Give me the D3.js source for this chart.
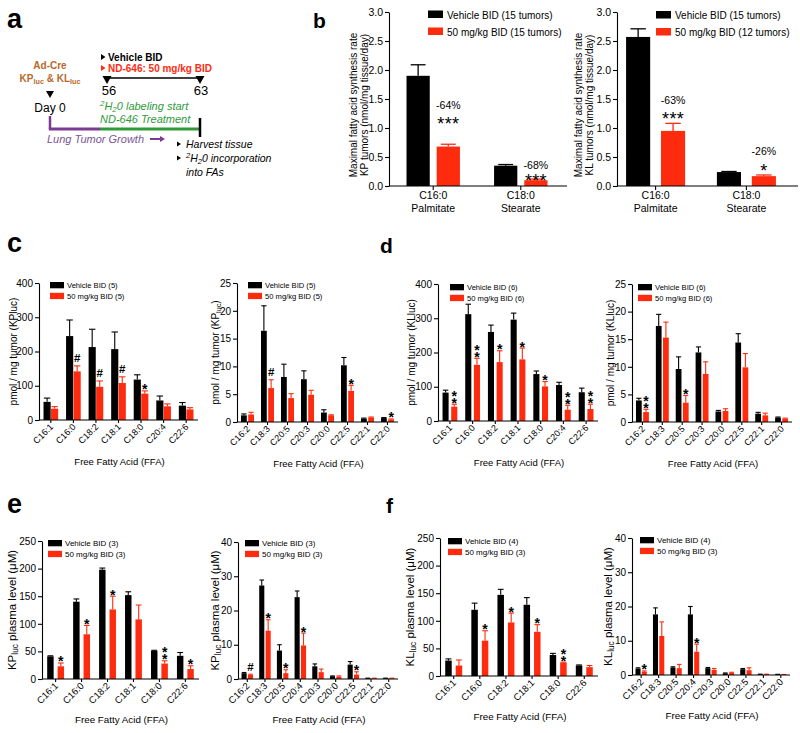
<!DOCTYPE html>
<html><head><meta charset="utf-8">
<script src="https://cdn.jsdelivr.net/npm/d3@7"></script>
<style>body{margin:0;background:#fff}svg{display:block}</style>
</head><body><svg id="fig" width="800" height="733"></svg>
<script>
// ---------------- DATA ----------------
const VEH = "#000000", DRUG = "#fe2b0e";

// panel b
const bCategories = ["C16:0", "C18:0"];
const bNames = ["Palmitate", "Stearate"];
const bTicks = [0, 0.5, 1.0, 1.5, 2.0, 2.5, 3.0];
const bKPVehicle = [1.90, 0.35], bKPVehicleSem = [0.19, 0.02];
const bKPDrug = [0.68, 0.10], bKPDrugSem = [0.04, 0.02];
const bKPPct = ["-64%", "-68%"], bKPSig = ["***", "***"];
const bKPPctAt = [1.40, 0.36], bKPSigAt = [1.14, 0.16];
const bKLVehicle = [2.57, 0.24], bKLVehicleSem = [0.14, 0.01];
const bKLDrug = [0.95, 0.17], bKLDrugSem = [0.13, 0.02];
const bKLPct = ["-63%", "-26%"], bKLSig = ["***", "*"];
const bKLPctAt = [1.48, 0.59], bKLSigAt = [1.22, 0.33];

// categories
const tumorMajorFFA = ["C16:1", "C16:0", "C18:2", "C18:1", "C18:0", "C20:4", "C22:6"];
const tumorMinorFFA = ["C16:2", "C18:3", "C20:5", "C20:3", "C20:0", "C22:5", "C22:1", "C22:0"];
const plasmaMajorFFA = ["C16:1", "C16:0", "C18:2", "C18:1", "C18:0", "C22:6"];
const plasmaMinorFFA = ["C16:2", "C18:3", "C20:5", "C20:4", "C20:3", "C20:0", "C22:5", "C22:1", "C22:0"];
const ticks400 = [0, 100, 200, 300, 400];
const ticks25 = [0, 5, 10, 15, 20, 25];
const ticks250 = [0, 50, 100, 150, 200, 250];
const ticks40 = [0, 10, 20, 30, 40];

// panel c (KPluc tumors)
const cMajVeh = [53, 245, 213, 207, 118, 57, 42], cMajVehSem = [11, 47, 52, 50, 14, 13, 9];
const cMajDrug = [33, 142, 97, 108, 77, 40, 31], cMajDrugSem = [6, 16, 17, 18, 8, 7, 5];
const cMajSig = ["", "#", "#", "#", "*", "", ""];
const cMinVeh = [1.2, 16.4, 8.1, 7.7, 1.7, 10.2, 0.6, 0.7], cMinVehSem = [0.25, 4.5, 2.3, 1.5, 0.5, 1.4, 0.1, 0.1];
const cMinDrug = [1.35, 6.1, 4.3, 4.9, 1.2, 5.6, 0.8, 0.45], cMinDrugSem = [0.4, 1.5, 0.8, 0.8, 0.1, 1.0, 0.1, 0.1];
const cMinSig = ["", "#", "", "", "", "*", "", "*"];

// panel d (KLluc tumors)
const dMajVeh = [83, 312, 260, 296, 137, 105, 84], dMajVehSem = [7, 29, 20, 19, 9, 8, 12];
const dMajDrug = [42, 164, 172, 180, 101, 33, 35], dMajDrugSem = [7, 19, 33, 33, 14, 13, 14];
const dMajSig = ["**", "**", "*", "*", "*", "**", "**"];
const dMinVeh = [3.9, 17.4, 9.6, 12.6, 1.9, 14.4, 1.5, 0.8], dMinVehSem = [0.4, 2.1, 2.2, 1.0, 0.2, 1.6, 0.25, 0.1];
const dMinDrug = [1.8, 15.3, 3.5, 8.7, 2.0, 9.9, 1.2, 0.6], dMinDrugSem = [0.5, 2.8, 1.3, 2.2, 0.4, 2.5, 0.4, 0.1];
const dMinSig = ["**", "", "*", "", "", "", "", ""];

// panel e (KPluc plasma)
const eMajVeh = [41, 140, 198, 152, 51, 42], eMajVehSem = [1, 5, 3, 6, 1, 6];
const eMajDrug = [23, 81, 126, 108, 28, 18], eMajDrugSem = [6, 16, 24, 26, 5, 6];
const eMajSig = ["*", "*", "*", "", "**", "*"];
const eMinVeh = [1.7, 27.3, 8.3, 23.9, 3.7, 0.8, 4.2, 0.2, 0.2], eMinVehSem = [0.2, 1.6, 1.7, 1.8, 0.7, 0.1, 0.9, 0.05, 0.05];
const eMinDrug = [1.2, 14.1, 1.7, 9.8, 2.0, 0.7, 1.3, 0.2, 0.2], eMinDrugSem = [0.2, 3.2, 1.0, 3.6, 0.9, 0.2, 0.8, 0.05, 0.05];
const eMinSig = ["#", "*", "*", "*", "", "", "*", "", ""];

// panel f (KLluc plasma)
const fMajVeh = [28, 120, 147, 129, 38, 19], fMajVehSem = [3, 12, 10, 13, 3, 1];
const fMajDrug = [19, 64, 97, 80, 24, 16], fMajDrugSem = [10, 18, 17, 13, 1, 3];
const fMajSig = ["", "*", "*", "*", "**", ""];
const fMinVeh = [1.9, 17.7, 2.2, 17.7, 2.0, 0.5, 1.7, 0.2, 0.15], fMinVehSem = [0.2, 1.9, 0.2, 2.3, 0.2, 0.1, 0.2, 0.05, 0.05];
const fMinDrug = [1.0, 11.4, 2.0, 6.8, 1.5, 0.7, 1.4, 0.2, 0.1], fMinDrugSem = [0.2, 4.1, 1.1, 2.2, 0.4, 0.1, 0.7, 0.05, 0.05];
const fMinSig = ["*", "", "", "*", "", "", "", "", ""];

// ---------------- DRAWING ----------------
const FONT = 'Arial, "Liberation Sans", Helvetica, sans-serif';
const svg = d3.select("#fig").attr("font-family", FONT);

function rich(sel, parts, fs) {
  parts.forEach(p => {
    const t = sel.append("tspan").text(p.t);
    if (p.sub) t.attr("font-size", fs * 0.72).attr("baseline-shift", -fs * 0.2);
    if (p.sup) t.attr("font-size", fs * 0.72).attr("baseline-shift", fs * 0.4);
  });
  return sel;
}

function letter(ch, x, y, fs) {
  svg.append("text").attr("x", x).attr("y", y).attr("font-size", fs)
    .attr("font-weight", "bold").text(ch);
}

// ---- panel a ----
(function () {
  const g = svg.append("g");
  const orange = "#b8692a", green = "#2f9a3a", purple = "#7b3b92", purpleT = "#7a5598";
  const tri = (x, y, w, h, col, dir) => {
    let pts;
    if (dir === "down") pts = [[x - w, y], [x + w, y], [x, y + h]];
    else pts = [[x, y - w], [x, y + w], [x + h, y]];
    g.append("polygon").attr("points", pts.map(p => p.join(",")).join(" ")).attr("fill", col);
  };
  g.append("text").attr("x", 50).attr("y", 69).attr("text-anchor", "middle")
    .attr("font-size", 10).attr("font-weight", "bold").attr("fill", orange).text("Ad-Cre");
  rich(g.append("text").attr("x", 50).attr("y", 82).attr("text-anchor", "middle")
    .attr("font-size", 10).attr("font-weight", "bold").attr("fill", orange),
    [{t: "KP"}, {t: "luc", sub: true}, {t: " & KL"}, {t: "luc", sub: true}], 10);
  tri(50, 91, 4, 7, "#000", "down");
  g.append("text").attr("x", 50).attr("y", 112).attr("text-anchor", "middle")
    .attr("font-size", 12).text("Day 0");

  tri(101, 57, 3, 4.5, "#000", "right");
  g.append("text").attr("x", 108).attr("y", 61).attr("font-size", 10)
    .attr("font-weight", "bold").text("Vehicle BID");
  tri(101, 68, 3, 4.5, "#ff2a12", "right");
  g.append("text").attr("x", 108).attr("y", 72).attr("font-size", 10)
    .attr("font-weight", "bold").attr("fill", "#ff2a12").text("ND-646: 50 mg/kg BID");
  g.append("line").attr("x1", 107).attr("x2", 200).attr("y1", 78).attr("y2", 78)
    .attr("stroke", "#000").attr("stroke-width", 1.5);
  tri(107, 76, 4.5, 8, "#000", "down");
  tri(200, 76, 4.5, 8, "#000", "down");
  g.append("text").attr("x", 109).attr("y", 95).attr("text-anchor", "middle").attr("font-size", 13).text("56");
  g.append("text").attr("x", 201).attr("y", 95).attr("text-anchor", "middle").attr("font-size", 13).text("63");
  rich(g.append("text").attr("x", 100).attr("y", 110).attr("font-size", 11)
    .attr("font-style", "italic").attr("fill", green),
    [{t: "2", sup: true}, {t: "H"}, {t: "2", sub: true}, {t: "0 labeling start"}], 11);
  g.append("text").attr("x", 100).attr("y", 123).attr("font-size", 11)
    .attr("font-style", "italic").attr("fill", green).text("ND-646 Treatment");

  g.append("line").attr("x1", 50).attr("x2", 50).attr("y1", 116).attr("y2", 129)
    .attr("stroke", purple).attr("stroke-width", 2.5);
  g.append("line").attr("x1", 48.8).attr("x2", 100).attr("y1", 129).attr("y2", 129)
    .attr("stroke", purple).attr("stroke-width", 3);
  g.append("line").attr("x1", 100).attr("x2", 200).attr("y1", 129).attr("y2", 129)
    .attr("stroke", green).attr("stroke-width", 3);
  g.append("line").attr("x1", 200).attr("x2", 200).attr("y1", 118).attr("y2", 137)
    .attr("stroke", "#000").attr("stroke-width", 2.5);

  g.append("text").attr("x", 47).attr("y", 143).attr("font-size", 11)
    .attr("font-style", "italic").attr("fill", purpleT).text("Lung Tumor Growth");
  g.append("line").attr("x1", 150).attr("x2", 161).attr("y1", 139).attr("y2", 139)
    .attr("stroke", purple).attr("stroke-width", 2);
  tri(160, 139, 3, 5, purple, "right");

  tri(177, 144, 2.5, 4, "#000", "right");
  g.append("text").attr("x", 186).attr("y", 148).attr("font-size", 10.5)
    .attr("font-style", "italic").text("Harvest tissue");
  tri(177, 158, 2.5, 4, "#000", "right");
  rich(g.append("text").attr("x", 186).attr("y", 162).attr("font-size", 10.5).attr("font-style", "italic"),
    [{t: "2", sup: true}, {t: "H"}, {t: "2", sub: true}, {t: "0 incorporation"}], 10.5);
  g.append("text").attr("x", 186).attr("y", 176).attr("font-size", 10.5)
    .attr("font-style", "italic").text("into FAs");
})();

// ---- panel b ----
function drawB(p) {
  const g = svg.append("g");
  const y = d3.scaleLinear().domain([0, 3]).range([p.yBot, p.yTop]);
  const x = d3.scaleBand().domain(bCategories).range(p.band).paddingInner(p.pi).paddingOuter(p.po);
  const xs = d3.scaleBand().domain([0, 1]).range([0, x.bandwidth()]).paddingInner(p.sub);
  const series = [{v: p.veh, s: p.vehSem, c: VEH}, {v: p.drug, s: p.drugSem, c: DRUG}];
  series.forEach((se, si) => {
    const bw = xs.bandwidth();
    bCategories.forEach((cat, i) => {
      const bx = x(cat) + xs(si), cx = bx + bw / 2;
      g.append("rect").attr("x", bx).attr("width", bw).attr("y", y(se.v[i]))
        .attr("height", y(0) - y(se.v[i])).attr("fill", se.c);
      const top = y(se.v[i] + se.s[i]);
      g.append("line").attr("x1", cx).attr("x2", cx).attr("y1", y(se.v[i])).attr("y2", top)
        .attr("stroke", se.c).attr("stroke-width", 1.3);
      g.append("line").attr("x1", cx - bw * 0.32).attr("x2", cx + bw * 0.32).attr("y1", top).attr("y2", top)
        .attr("stroke", se.c).attr("stroke-width", 1.3);
    });
  });
  // annotations
  bCategories.forEach((cat, i) => {
    const cx = x(cat) + xs(1) + xs.bandwidth() / 2;
    g.append("text").attr("x", cx).attr("y", y(p.pctAt[i]) + 3.7).attr("text-anchor", "middle")
      .attr("font-size", 10.5).text(p.pct[i]);
    g.append("text").attr("x", cx).attr("y", y(p.sigAt[i]) + 10).attr("text-anchor", "middle")
      .attr("font-size", 18).attr("letter-spacing", 0.3).text(p.sig[i]);
  });
  // axes
  const ya = g.append("g").attr("transform", `translate(${p.x0},0)`)
    .call(d3.axisLeft(y).tickValues(bTicks).tickFormat(d3.format(".1f")).tickSize(4).tickSizeOuter(0).tickPadding(2));
  ya.attr("font-family", FONT).attr("font-size", 10.5);
  ya.selectAll("path,line").attr("stroke-width", 1.1);
  const xa = g.append("g").attr("transform", `translate(0,${p.yBot})`)
    .call(d3.axisBottom(x).tickSize(4).tickSizeOuter(0));
  xa.select(".domain").remove();
  xa.attr("font-family", FONT).attr("font-size", 10.5);
  xa.selectAll("line").attr("stroke-width", 1.1);
  xa.selectAll("text").attr("y", 13).attr("dy", null).each(function (d, i) {
    d3.select(this).append("tspan").attr("x", 0).attr("dy", 13).text(bNames[i]);
  });
  g.append("line").attr("x1", p.x0).attr("x2", p.x1).attr("y1", p.yBot).attr("y2", p.yBot)
    .attr("stroke", "#000").attr("stroke-width", 1.1);
  // legend
  p.legend.forEach((lab, i) => {
    g.append("rect").attr("x", p.lx).attr("y", p.ly + i * 17).attr("width", 15).attr("height", 7.5)
      .attr("fill", i ? DRUG : VEH);
    g.append("text").attr("x", p.lx + 19).attr("y", p.ly + i * 17 + 8).attr("font-size", 10).text(lab);
  });
  // y title
  const tg = g.append("g");
  p.title.forEach((line, i) => {
    rich(tg.append("text").attr("transform", `translate(${p.tx + i * 11.5},105) rotate(-90)`)
      .attr("text-anchor", "middle").attr("dy", "0.35em").attr("font-size", 10), line, 10);
  });
}

drawB({x0: 389, x1: 567, band: [389, 565], pi: 0.39, po: 0.2, sub: 0.23, yTop: 12, yBot: 186,
  veh: bKPVehicle, vehSem: bKPVehicleSem, drug: bKPDrug, drugSem: bKPDrugSem,
  pct: bKPPct, pctAt: bKPPctAt, sig: bKPSig, sigAt: bKPSigAt,
  legend: ["Vehicle BID (15 tumors)", "50 mg/kg BID (15 tumors)"], lx: 428, ly: 10.5,
  tx: 353, title: [[{t: "Maximal fatty acid synthesis rate"}], [{t: "KP tumors (nmol/mg tissue/day)"}]]});
drawB({x0: 617, x1: 798, band: [617, 785], pi: 0.35, po: 0.1, sub: 0.31, yTop: 12, yBot: 186,
  veh: bKLVehicle, vehSem: bKLVehicleSem, drug: bKLDrug, drugSem: bKLDrugSem,
  pct: bKLPct, pctAt: bKLPctAt, sig: bKLSig, sigAt: bKLSigAt,
  legend: ["Vehicle BID (15 tumors)", "50 mg/kg BID (12 tumors)"], lx: 656, ly: 11,
  tx: 578, title: [[{t: "Maximal fatty acid synthesis rate"}], [{t: "KL tumors (nmol/mg tissue/day)"}]]});

// ---- FFA panels ----
function drawFFA(p) {
  const g = svg.append("g");
  const max = p.ticks[p.ticks.length - 1];
  const y = d3.scaleLinear().domain([0, max]).range([p.yBot, p.yTop]);
  const x = d3.scaleBand().domain(p.cats).range([p.x0, p.x1]).paddingInner(0.35).paddingOuter(0.2);
  const xs = d3.scaleBand().domain([0, 1]).range([0, x.bandwidth()]).paddingInner(p.sub);
  const bw = xs.bandwidth();
  const series = [{v: p.veh, s: p.vehSem, c: VEH}, {v: p.drug, s: p.drugSem, c: DRUG}];
  series.forEach((se, si) => {
    p.cats.forEach((cat, i) => {
      const bx = x(cat) + xs(si), cx = bx + bw / 2;
      g.append("rect").attr("x", bx).attr("width", bw).attr("y", y(se.v[i]))
        .attr("height", y(0) - y(se.v[i])).attr("fill", se.c);
      const top = y(se.v[i] + se.s[i]);
      g.append("line").attr("x1", cx).attr("x2", cx).attr("y1", y(se.v[i])).attr("y2", top)
        .attr("stroke", se.c).attr("stroke-width", 1.1);
      g.append("line").attr("x1", cx - bw * 0.45).attr("x2", cx + bw * 0.45).attr("y1", top).attr("y2", top)
        .attr("stroke", se.c).attr("stroke-width", 1.1);
    });
  });
  // significance marks
  p.cats.forEach((cat, i) => {
    const s = p.sig[i];
    if (!s) return;
    const cx = x(cat) + xs(1) + bw / 2;
    const top = y(p.drug[i] + p.drugSem[i]);
    if (s === "#") {
      g.append("text").attr("x", cx).attr("y", top - 3.5).attr("text-anchor", "middle")
        .attr("font-size", 11.5).attr("font-weight", "bold").text("#");
    } else {
      // stacked asterisks in ONE text node, positioned per glyph
      const n = s.length;
      const xsList = [], ysList = [];
      for (let k = 0; k < n; k++) {
        xsList.push(cx);
        ysList.push(top + 3.5 - (n - 1 - k) * 6.8);
      }
      g.append("text").attr("text-anchor", "middle").attr("font-size", 14).attr("font-weight", "bold")
        .attr("x", xsList.join(" ")).attr("y", ysList.join(" ")).text(s);
    }
  });
  // y axis
  const ya = g.append("g").attr("transform", `translate(${p.x0},0)`)
    .call(d3.axisLeft(y).tickValues(p.ticks).tickSize(4).tickSizeOuter(0).tickPadding(2));
  ya.attr("font-family", FONT).attr("font-size", 10);
  ya.selectAll("path,line").attr("stroke-width", 1.1);
  // x axis
  const xa = g.append("g").attr("transform", `translate(0,${p.yBot})`)
    .call(d3.axisBottom(x).tickSize(3).tickSizeOuter(0));
  xa.select(".domain").remove();
  xa.attr("font-family", FONT).attr("font-size", p.xfs);
  xa.selectAll("line").attr("stroke-width", 1.1);
  xa.selectAll("text").attr("y", null).attr("dy", null).attr("text-anchor", "end")
    .attr("transform", "translate(3,7.5) rotate(-45)");
  g.append("line").attr("x1", p.x0).attr("x2", p.x1).attr("y1", p.yBot).attr("y2", p.yBot)
    .attr("stroke", "#000").attr("stroke-width", 1.1);
  g.append("text").attr("x", (p.x0 + p.x1) / 2 + 1).attr("y", p.yBot + p.xtOff)
    .attr("text-anchor", "middle").attr("font-size", p.xtfs).text("Free Fatty Acid (FFA)");
  // y title
  rich(g.append("text").attr("transform", `translate(${p.tx},${(p.yTop + p.yBot) / 2}) rotate(-90)`)
    .attr("text-anchor", "middle").attr("dy", "0.35em").attr("font-size", p.tfs), p.title, p.tfs);
  // legend
  p.legend.forEach((lab, i) => {
    g.append("rect").attr("x", p.lx).attr("y", p.ly + i * 10.8).attr("width", 14).attr("height", 6.3)
      .attr("fill", i ? DRUG : VEH);
    g.append("text").attr("x", p.lx + 17).attr("y", p.ly + i * 10.8 + 6.3).attr("font-size", p.lfs).text(lab);
  });
}

const tumorTitleKP = [{t: "pmol / mg tumor (KPluc)"}];
const tumorTitleKPsub = [{t: "pmol / mg tumor (KP"}, {t: "luc", sub: true}, {t: ")"}];
const tumorTitleKL = [{t: "pmol / mg tumor (KLluc)"}];
const plasmaTitleKP = [{t: "KP"}, {t: "luc", sub: true}, {t: " plasma level (\u03bcM)"}];
const plasmaTitleKL = [{t: "KL"}, {t: "luc", sub: true}, {t: " plasma level (\u03bcM)"}];
const tumorStyle = {xfs: 9, xtfs: 9.5, xtOff: 45, tfs: 10, lfs: 7.6};
const plasmaStyle = {xfs: 9.5, xtfs: 9.8, xtOff: 44, tfs: 11.5, lfs: 8};

drawFFA(Object.assign({cats: tumorMajorFFA, ticks: ticks400, veh: cMajVeh, vehSem: cMajVehSem, drug: cMajDrug, drugSem: cMajDrugSem, sig: cMajSig,
  x0: 39, x1: 198, yTop: 283, yBot: 420, lx: 50, ly: 282, tx: 13, sub: 0.05, title: tumorTitleKP,
  legend: ["Vehicle BID (5)", "50 mg/kg BID (5)"]}, tumorStyle));
drawFFA(Object.assign({cats: tumorMinorFFA, ticks: ticks25, veh: cMinVeh, vehSem: cMinVehSem, drug: cMinDrug, drugSem: cMinDrugSem, sig: cMinSig,
  x0: 237, x1: 398, yTop: 283, yBot: 422, lx: 248, ly: 282, tx: 215, sub: 0.2, title: tumorTitleKPsub,
  legend: ["Vehicle BID (5)", "50 mg/kg BID (5)"]}, tumorStyle));
drawFFA(Object.assign({cats: tumorMajorFFA, ticks: ticks400, veh: dMajVeh, vehSem: dMajVehSem, drug: dMajDrug, drugSem: dMajDrugSem, sig: dMajSig,
  x0: 438, x1: 598, yTop: 284, yBot: 421, lx: 450, ly: 284, tx: 411, sub: 0.3, title: tumorTitleKL,
  legend: ["Vehicle BID (6)", "50 mg/kg BID (6)"]}, tumorStyle));
drawFFA(Object.assign({cats: tumorMinorFFA, ticks: ticks25, veh: dMinVeh, vehSem: dMinVehSem, drug: dMinDrug, drugSem: dMinDrugSem, sig: dMinSig,
  x0: 632, x1: 792, yTop: 284, yBot: 422, lx: 638, ly: 284, tx: 610, sub: 0.2, title: tumorTitleKL,
  legend: ["Vehicle BID (6)", "50 mg/kg BID (6)"]}, tumorStyle));
drawFFA(Object.assign({cats: plasmaMajorFFA, ticks: ticks250, veh: eMajVeh, vehSem: eMajVehSem, drug: eMajDrug, drugSem: eMajDrugSem, sig: eMajSig,
  x0: 42, x1: 199, yTop: 541, yBot: 679, lx: 48, ly: 540, tx: 12, sub: 0.38, title: plasmaTitleKP,
  legend: ["Vehicle BID (3)", "50 mg/kg BID (3)"]}, plasmaStyle));
drawFFA(Object.assign({cats: plasmaMinorFFA, ticks: ticks40, veh: eMinVeh, vehSem: eMinVehSem, drug: eMinDrug, drugSem: eMinDrugSem, sig: eMinSig,
  x0: 238, x1: 398, yTop: 542, yBot: 679, lx: 245, ly: 540, tx: 215, sub: 0.2, title: plasmaTitleKP,
  legend: ["Vehicle BID (3)", "50 mg/kg BID (3)"]}, plasmaStyle));
drawFFA(Object.assign({cats: plasmaMajorFFA, ticks: ticks250, veh: fMajVeh, vehSem: fMajVehSem, drug: fMajDrug, drugSem: fMajDrugSem, sig: fMajSig,
  x0: 440, x1: 598, yTop: 538, yBot: 676, lx: 448, ly: 538, tx: 410, sub: 0.38, title: plasmaTitleKL,
  legend: ["Vehicle BID (4)", "50 mg/kg BID (3)"]}, plasmaStyle));
drawFFA(Object.assign({cats: plasmaMinorFFA, ticks: ticks40, veh: fMinVeh, vehSem: fMinVehSem, drug: fMinDrug, drugSem: fMinDrugSem, sig: fMinSig,
  x0: 632, x1: 790, yTop: 538, yBot: 675, lx: 640, ly: 537, tx: 608, sub: 0.2, title: plasmaTitleKL,
  legend: ["Vehicle BID (4)", "50 mg/kg BID (3)"]}, plasmaStyle));

// panel letters
letter("a", 7, 28, 27);
letter("b", 313, 28, 21);
letter("c", 7, 252, 27);
letter("d", 380, 253, 21);
letter("e", 7, 513, 27);
letter("f", 386, 513, 21);
</script></body></html>
